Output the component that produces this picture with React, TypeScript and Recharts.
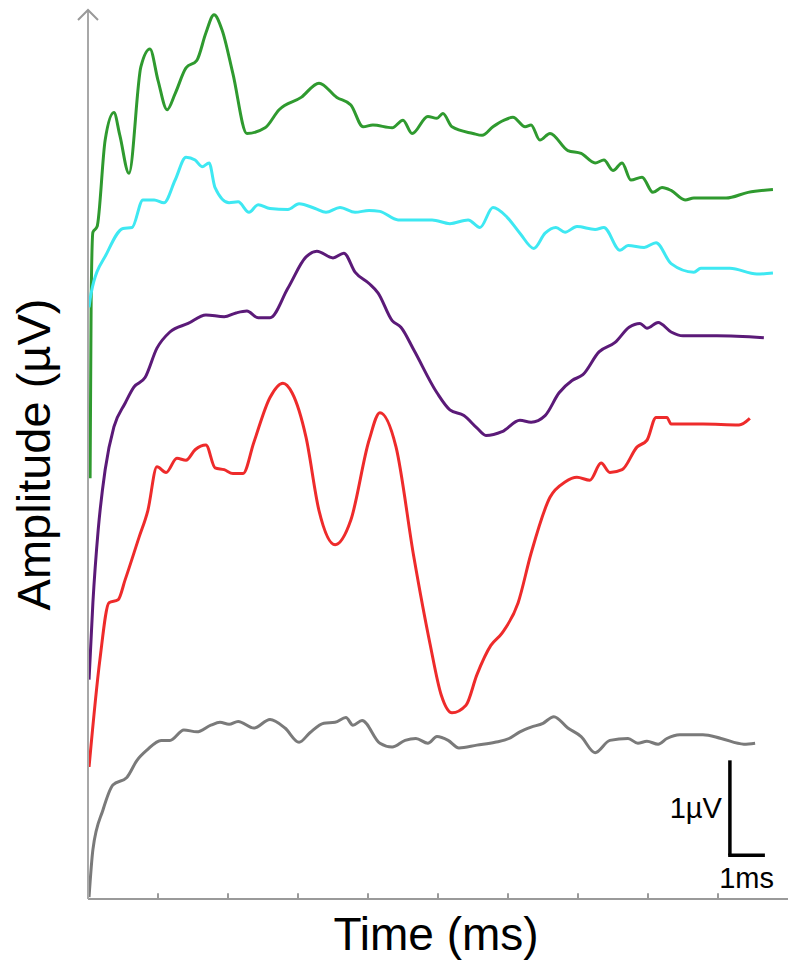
import { LineChart, Line, XAxis, YAxis, ReferenceLine, ReferenceDot } from 'recharts';

// time in ms, amplitude in µV
const greenTime = [0.06, 0.09, 0.14, 0.26, 0.49, 0.74, 0.91, 1.17, 1.51, 1.77, 2.0, 2.26, 2.49, 2.8, 3.11, 3.37, 3.6, 3.83, 4.14, 4.54, 5.06, 5.46, 6.09, 6.6, 7.11, 7.51, 7.86, 8.14, 8.69, 9.0, 9.26, 9.71, 9.97, 10.14, 10.4, 11.0, 11.26, 11.57, 11.89, 12.14, 12.49, 12.66, 12.91, 13.2, 13.71, 14.09, 14.49, 14.74, 15.0, 15.26, 15.51, 15.83, 16.14, 16.4, 16.66, 17.06, 17.31, 18.23, 18.86, 19.57];
const greenAmp = [4.43, 6.31, 7.02, 7.08, 7.99, 8.28, 8.04, 7.64, 8.76, 8.95, 8.62, 8.31, 8.48, 8.75, 8.83, 9.12, 9.31, 9.15, 8.69, 8.06, 8.12, 8.31, 8.44, 8.59, 8.44, 8.36, 8.13, 8.15, 8.12, 8.2, 8.06, 8.24, 8.22, 8.27, 8.13, 8.06, 8.04, 8.13, 8.2, 8.23, 8.13, 8.15, 7.99, 8.06, 7.88, 7.85, 7.75, 7.78, 7.67, 7.75, 7.57, 7.6, 7.44, 7.49, 7.46, 7.36, 7.38, 7.38, 7.44, 7.47];

const cyanTime = [0.03, 0.09, 0.54, 1.0, 1.26, 1.57, 1.89, 2.17, 2.49, 2.8, 3.06, 3.26, 3.46, 3.63, 4.03, 4.29, 4.6, 4.86, 5.2, 5.71, 6.03, 6.49, 6.8, 7.2, 7.63, 8.03, 8.34, 8.86, 9.37, 9.83, 10.34, 10.86, 11.2, 11.57, 11.97, 12.34, 12.74, 13.06, 13.37, 13.63, 13.97, 14.49, 14.74, 15.2, 15.43, 15.89, 16.23, 16.66, 17.31, 17.51, 18.34, 19.11, 19.57];
const cyanAmp = [6.23, 6.38, 6.8, 7.06, 7.07, 7.36, 7.36, 7.33, 7.57, 7.81, 7.78, 7.71, 7.75, 7.49, 7.33, 7.34, 7.23, 7.31, 7.27, 7.26, 7.32, 7.27, 7.23, 7.28, 7.23, 7.25, 7.24, 7.15, 7.15, 7.15, 7.11, 7.15, 7.07, 7.28, 7.18, 7.01, 6.85, 7.01, 7.07, 7.02, 7.08, 7.05, 7.07, 6.83, 6.88, 6.86, 6.91, 6.69, 6.6, 6.64, 6.64, 6.58, 6.59];

const purpleTime = [0.03, 0.14, 0.29, 0.49, 0.74, 1.06, 1.31, 1.63, 1.97, 2.34, 2.86, 3.37, 3.89, 4.23, 4.54, 4.86, 5.2, 5.71, 6.23, 6.54, 7.0, 7.31, 7.63, 8.03, 8.29, 8.69, 8.94, 9.31, 9.97, 10.34, 10.74, 11.11, 11.37, 11.83, 12.34, 12.66, 13.06, 13.46, 13.83, 14.14, 14.6, 15.06, 15.46, 15.77, 15.97, 16.29, 16.66, 17.0, 17.97, 19.31];
const purpleAmp = [2.31, 3.12, 3.88, 4.52, 4.97, 5.22, 5.39, 5.49, 5.8, 5.97, 6.06, 6.15, 6.13, 6.17, 6.19, 6.12, 6.12, 6.43, 6.76, 6.82, 6.75, 6.8, 6.6, 6.48, 6.38, 6.09, 6.02, 5.78, 5.33, 5.15, 5.09, 4.96, 4.88, 4.92, 5.04, 5.02, 5.09, 5.33, 5.46, 5.52, 5.76, 5.86, 6.02, 6.06, 6.01, 6.07, 5.97, 5.93, 5.93, 5.91];

const redTime = [0.03, 0.34, 0.6, 0.86, 1.06, 1.46, 1.71, 1.97, 2.23, 2.54, 2.8, 3.06, 3.37, 3.63, 3.89, 4.14, 4.43, 4.74, 5.2, 5.57, 5.83, 6.23, 6.6, 7.06, 7.51, 8.03, 8.34, 8.8, 9.31, 9.77, 10.09, 10.4, 10.8, 11.11, 11.51, 11.83, 12.29, 12.66, 13.2, 13.63, 13.97, 14.34, 14.66, 14.91, 15.26, 15.69, 15.97, 16.23, 16.54, 16.66, 17.57, 18.6, 18.91];
const redAmp = [1.39, 2.52, 3.12, 3.15, 3.36, 3.81, 4.09, 4.55, 4.49, 4.64, 4.62, 4.73, 4.78, 4.54, 4.52, 4.48, 4.48, 4.81, 5.28, 5.43, 5.33, 4.86, 4.09, 3.73, 3.99, 4.83, 5.12, 4.76, 3.6, 2.69, 2.15, 1.96, 2.04, 2.36, 2.67, 2.8, 3.12, 3.64, 4.23, 4.39, 4.44, 4.41, 4.59, 4.49, 4.52, 4.76, 4.83, 5.07, 5.07, 5.0, 5.0, 4.99, 5.06];

const grayTime = [0.03, 0.14, 0.43, 0.71, 1.11, 1.4, 1.69, 2.09, 2.34, 2.74, 3.11, 3.51, 3.77, 4.03, 4.29, 4.74, 5.2, 5.63, 6.03, 6.34, 6.74, 7.06, 7.37, 7.57, 7.83, 8.34, 8.69, 9.06, 9.37, 9.71, 9.97, 10.29, 10.6, 11.11, 11.63, 12.03, 12.34, 12.66, 13.0, 13.31, 13.71, 14.09, 14.49, 14.91, 15.43, 15.71, 15.97, 16.29, 16.54, 16.91, 17.57, 18.09, 18.74, 19.06];
const grayAmp = [0.02, 0.52, 0.94, 1.2, 1.28, 1.46, 1.57, 1.67, 1.67, 1.78, 1.76, 1.83, 1.86, 1.84, 1.87, 1.8, 1.89, 1.8, 1.65, 1.75, 1.85, 1.86, 1.91, 1.83, 1.88, 1.64, 1.6, 1.67, 1.69, 1.64, 1.71, 1.67, 1.59, 1.62, 1.65, 1.69, 1.76, 1.81, 1.85, 1.92, 1.8, 1.71, 1.54, 1.67, 1.69, 1.64, 1.66, 1.63, 1.69, 1.73, 1.73, 1.69, 1.63, 1.64];

const timeTicks = [2, 4, 6, 8, 10, 12, 14, 16, 18];

// scale bar: 1 ms wide, 1 µV tall
const barTime = 18.34;
const barAmp = 0.46;

const FONT = '"Liberation Sans", Arial, sans-serif';

const toRows = (t: number[], a: number[]) => t.map((v, i) => ({ t: v, a: a[i] }));

const series = [
  { name: 'green', color: '#2f9a2f', data: toRows(greenTime, greenAmp) },
  { name: 'cyan', color: '#3ee8f2', data: toRows(cyanTime, cyanAmp) },
  { name: 'purple', color: '#5b1a78', data: toRows(purpleTime, purpleAmp) },
  { name: 'red', color: '#ee2b2b', data: toRows(redTime, redAmp) },
  { name: 'gray', color: '#7a7a7a', data: toRows(grayTime, grayAmp) },
];

function TimeTitle(props: any) {
  const { viewBox } = props;
  return (
    <text x={viewBox.x + viewBox.width / 2 - 2} y={viewBox.y + 51} textAnchor="middle" fontSize={46} fontFamily={FONT} fill="#000">
      Time (ms)
    </text>
  );
}

function AmpTitle(props: any) {
  const { viewBox } = props;
  const cx = viewBox.x + 50;
  const cy = viewBox.y + viewBox.height / 2;
  return (
    <text x={cx} y={cy} transform={`rotate(-90, ${cx}, ${cy})`} textAnchor="middle" fontSize={47} fontFamily={FONT} fill="#000">
      Amplitude (µV)
    </text>
  );
}

function ArrowHead(props: any) {
  const { cx, cy } = props;
  return <path d={`M${cx - 10},${cy + 10} L${cx},${cy} L${cx + 10},${cy + 10}`} fill="none" stroke="#999" strokeWidth={2} />;
}

export default function App() {
  return (
    <div style={{ position: 'absolute', left: 0, top: 0, background: '#fff' }}>
      <LineChart width={788} height={963} margin={{ top: 10, right: 0, left: 0, bottom: 0 }}>
        <XAxis
          dataKey="t"
          type="number"
          domain={[0, 20]}
          allowDataOverflow
          ticks={timeTicks}
          tick={false}
          tickLine={false}
          height={64}
          axisLine={{ stroke: '#9a9a9a', strokeWidth: 2 }}
          label={<TimeTitle />}
        />
        <YAxis
          type="number"
          domain={[0, 9.36]}
          allowDataOverflow
          tick={false}
          tickLine={false}
          width={88}
          axisLine={{ stroke: '#a8a8a8', strokeWidth: 2 }}
          label={<AmpTitle />}
        />
        {timeTicks.map((t) => (
          <ReferenceLine key={t} segment={[{ x: t, y: 0 }, { x: t, y: 0.06 }]} stroke="#9a9a9a" strokeWidth={2} />
        ))}
        <ReferenceDot x={0} y={9.36} r={0} shape={<ArrowHead />} />
        {series.map((s) => (
          <Line
            key={s.name}
            data={s.data}
            dataKey="a"
            type="monotone"
            stroke={s.color}
            strokeWidth={3}
            strokeLinejoin="round"
            dot={false}
            activeDot={false}
            isAnimationActive={false}
          />
        ))}
        <ReferenceLine
          segment={[{ x: barTime, y: barAmp }, { x: barTime, y: barAmp + 1 }]}
          stroke="#000"
          strokeWidth={3.5}
          label={{ value: '1µV', position: 'left', offset: 8, fontSize: 29, fill: '#000', fontFamily: FONT }}
        />
        <ReferenceLine
          segment={[{ x: barTime - 0.05, y: barAmp }, { x: barTime + 1, y: barAmp }]}
          stroke="#000"
          strokeWidth={3.5}
          label={{ value: '1ms', position: 'bottom', offset: 12, fontSize: 29, fill: '#000', fontFamily: FONT }}
        />
      </LineChart>
    </div>
  );
}
